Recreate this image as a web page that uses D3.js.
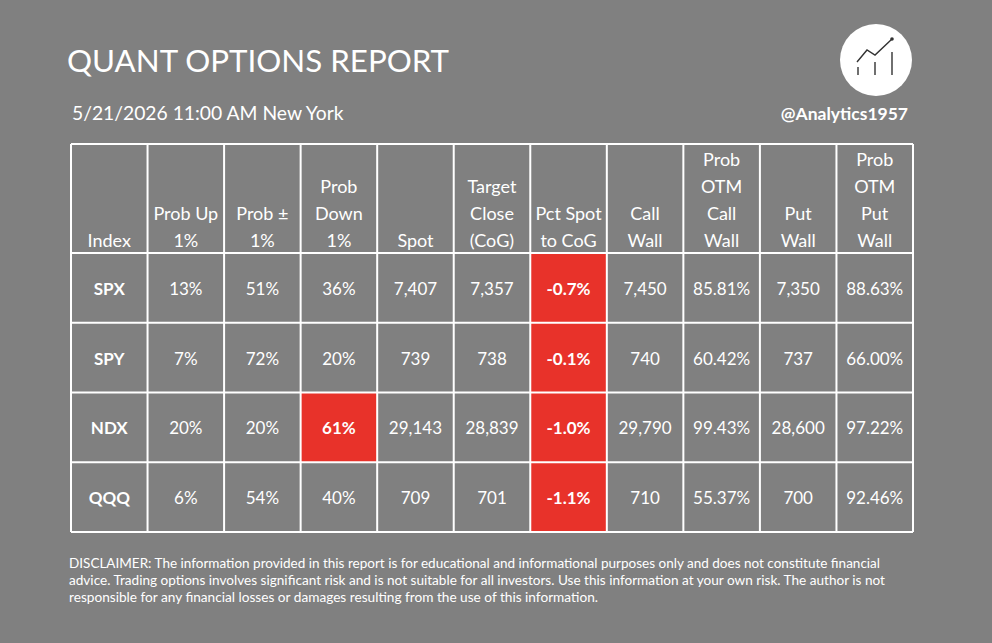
<!DOCTYPE html>
<html><head><meta charset="utf-8">
<script src="https://cdn.jsdelivr.net/npm/d3@7"></script>
<style>
html,body{margin:0;padding:0;background:#808080;}
svg{display:block;}
text{font-family:Lato,"Open Sans",sans-serif;fill:#fff;}
</style></head><body>
<svg id="c" width="992" height="643"></svg>
<script>
const title = "QUANT OPTIONS REPORT";
const subtitle = "5/21/2026 11:00 AM New York";
const handle = "@Analytics1957";
const headers = [
  ["Index"], ["Prob Up","1%"], ["Prob \u00b1","1%"], ["Prob","Down","1%"], ["Spot"],
  ["Target","Close","(CoG)"], ["Pct Spot","to CoG"], ["Call","Wall"],
  ["Prob","OTM","Call","Wall"], ["Put","Wall"], ["Prob","OTM","Put","Wall"]
];
const indices = ["SPX","SPY","NDX","QQQ"];
const probUp = [0.13,0.07,0.20,0.06];
const probPM = [0.51,0.72,0.20,0.54];
const probDown = [0.36,0.20,0.61,0.40];
const spot = [7407,739,29143,709];
const target = [7357,738,28839,701];
const pctSpot = [-0.007,-0.001,-0.010,-0.011];
const callWall = [7450,740,29790,710];
const probOtmCall = [0.8581,0.6042,0.9943,0.5537];
const putWall = [7350,737,28600,700];
const probOtmPut = [0.8863,0.6600,0.9722,0.9246];
const disclaimer = [
  "DISCLAIMER: The information provided in this report is for educational and informational purposes only and does not constitute financial",
  "advice. Trading options involves significant risk and is not suitable for all investors. Use this information at your own risk. The author is not",
  "responsible for any financial losses or damages resulting from the use of this information."
];

const svg = d3.select("#c");
const W = 992, H = 643;
svg.append("rect").attr("width",W).attr("height",H).attr("fill","#808080");

// title area
svg.append("text").attr("x",67).attr("y",72).attr("font-size",31.3).text(title);
svg.append("text").attr("x",72).attr("y",120).attr("font-size",19.3).attr("fill","#f2f2f2").text(subtitle);
svg.append("text").attr("x",908).attr("y",120).attr("font-size",17.5).attr("font-weight","bold").attr("text-anchor","end").text(handle);

// logo
const lg = svg.append("g").attr("transform","translate(876,60)");
lg.append("circle").attr("r",36).attr("fill","#fff");
const ic = lg.append("g").attr("stroke","#333").attr("stroke-width",1.4).attr("fill","none");
[[-18,7],[-1,2],[16,-8]].forEach(([x,top])=>ic.append("line").attr("x1",x).attr("x2",x).attr("y1",top).attr("y2",15));
ic.append("polyline").attr("points","-19,2 -9,-10 -1,-5 16,-21");
lg.append("circle").attr("cx",16).attr("cy",-21).attr("r",1.8).attr("fill","#333");

// table
const loc = d3.formatLocale({decimal:".", thousands:",", grouping:[3], currency:["$",""], minus:"-"});
const f0 = loc.format(",.0f"), p0 = loc.format(".0%"), p1 = loc.format(".1%"), p2 = loc.format(".2%");
const rows = indices.map((k,i)=>[
  {v:k, bold:true},
  {v:p0(probUp[i])},
  {v:p0(probPM[i])},
  {v:p0(probDown[i]), red: probDown[i] > 0.5},
  {v:f0(spot[i])},
  {v:f0(target[i])},
  {v:p1(pctSpot[i]), red: pctSpot[i] < 0},
  {v:f0(callWall[i])},
  {v:p2(probOtmCall[i])},
  {v:f0(putWall[i])},
  {v:p2(probOtmPut[i])}
]);

const x = d3.scaleBand().domain(d3.range(headers.length)).range([71,913]);
const headTop = 144, headBot = 253;
const y = d3.scaleBand().domain(d3.range(rows.length)).range([headBot,532]);

const g = svg.append("g");
rows.forEach((r,i)=>r.forEach((c,j)=>{
  if(c.red) g.append("rect").attr("x",x(j)).attr("y",y(i)).attr("width",x.bandwidth()).attr("height",y.bandwidth()).attr("fill","#e8322a");
}));
const gl = g.append("g").attr("stroke","#fff").attr("stroke-width",2);
d3.range(headers.length+1).forEach(j=>{
  const xx = j<headers.length ? x(j) : x.range()[1];
  gl.append("line").attr("x1",xx).attr("x2",xx).attr("y1",headTop).attr("y2",532);
});
[headTop, ...d3.range(rows.length).map(i=>y(i)), 532].forEach(yy=>{
  gl.append("line").attr("x1",71).attr("x2",913).attr("y1",yy).attr("y2",yy);
});
const lh = 27;
headers.forEach((lines,j)=>{
  lines.forEach((t,k)=>{
    g.append("text").attr("x",x(j)+x.bandwidth()/2).attr("y",247 - (lines.length-1-k)*lh)
      .attr("text-anchor","middle").attr("font-size",18).attr("fill","#f2f2f2").text(t);
  });
});
rows.forEach((r,i)=>r.forEach((c,j)=>{
  g.append("text").attr("x",x(j)+x.bandwidth()/2).attr("y",y(i)+y.bandwidth()/2+7)
    .attr("text-anchor","middle").attr("font-size",17)
    .attr("font-weight",(c.bold||c.red)?"bold":"normal").attr("fill","#f2f2f2").text(c.v);
}));

const dl = [880,885,598];
disclaimer.forEach((t,i)=>{
  svg.append("text").attr("x",69).attr("y",568+i*17).attr("font-size",12.5).attr("fill","#f0f0f0")
    .attr("textLength",dl[i]-69).attr("lengthAdjust","spacingAndGlyphs").text(t);
});
</script></body></html>
